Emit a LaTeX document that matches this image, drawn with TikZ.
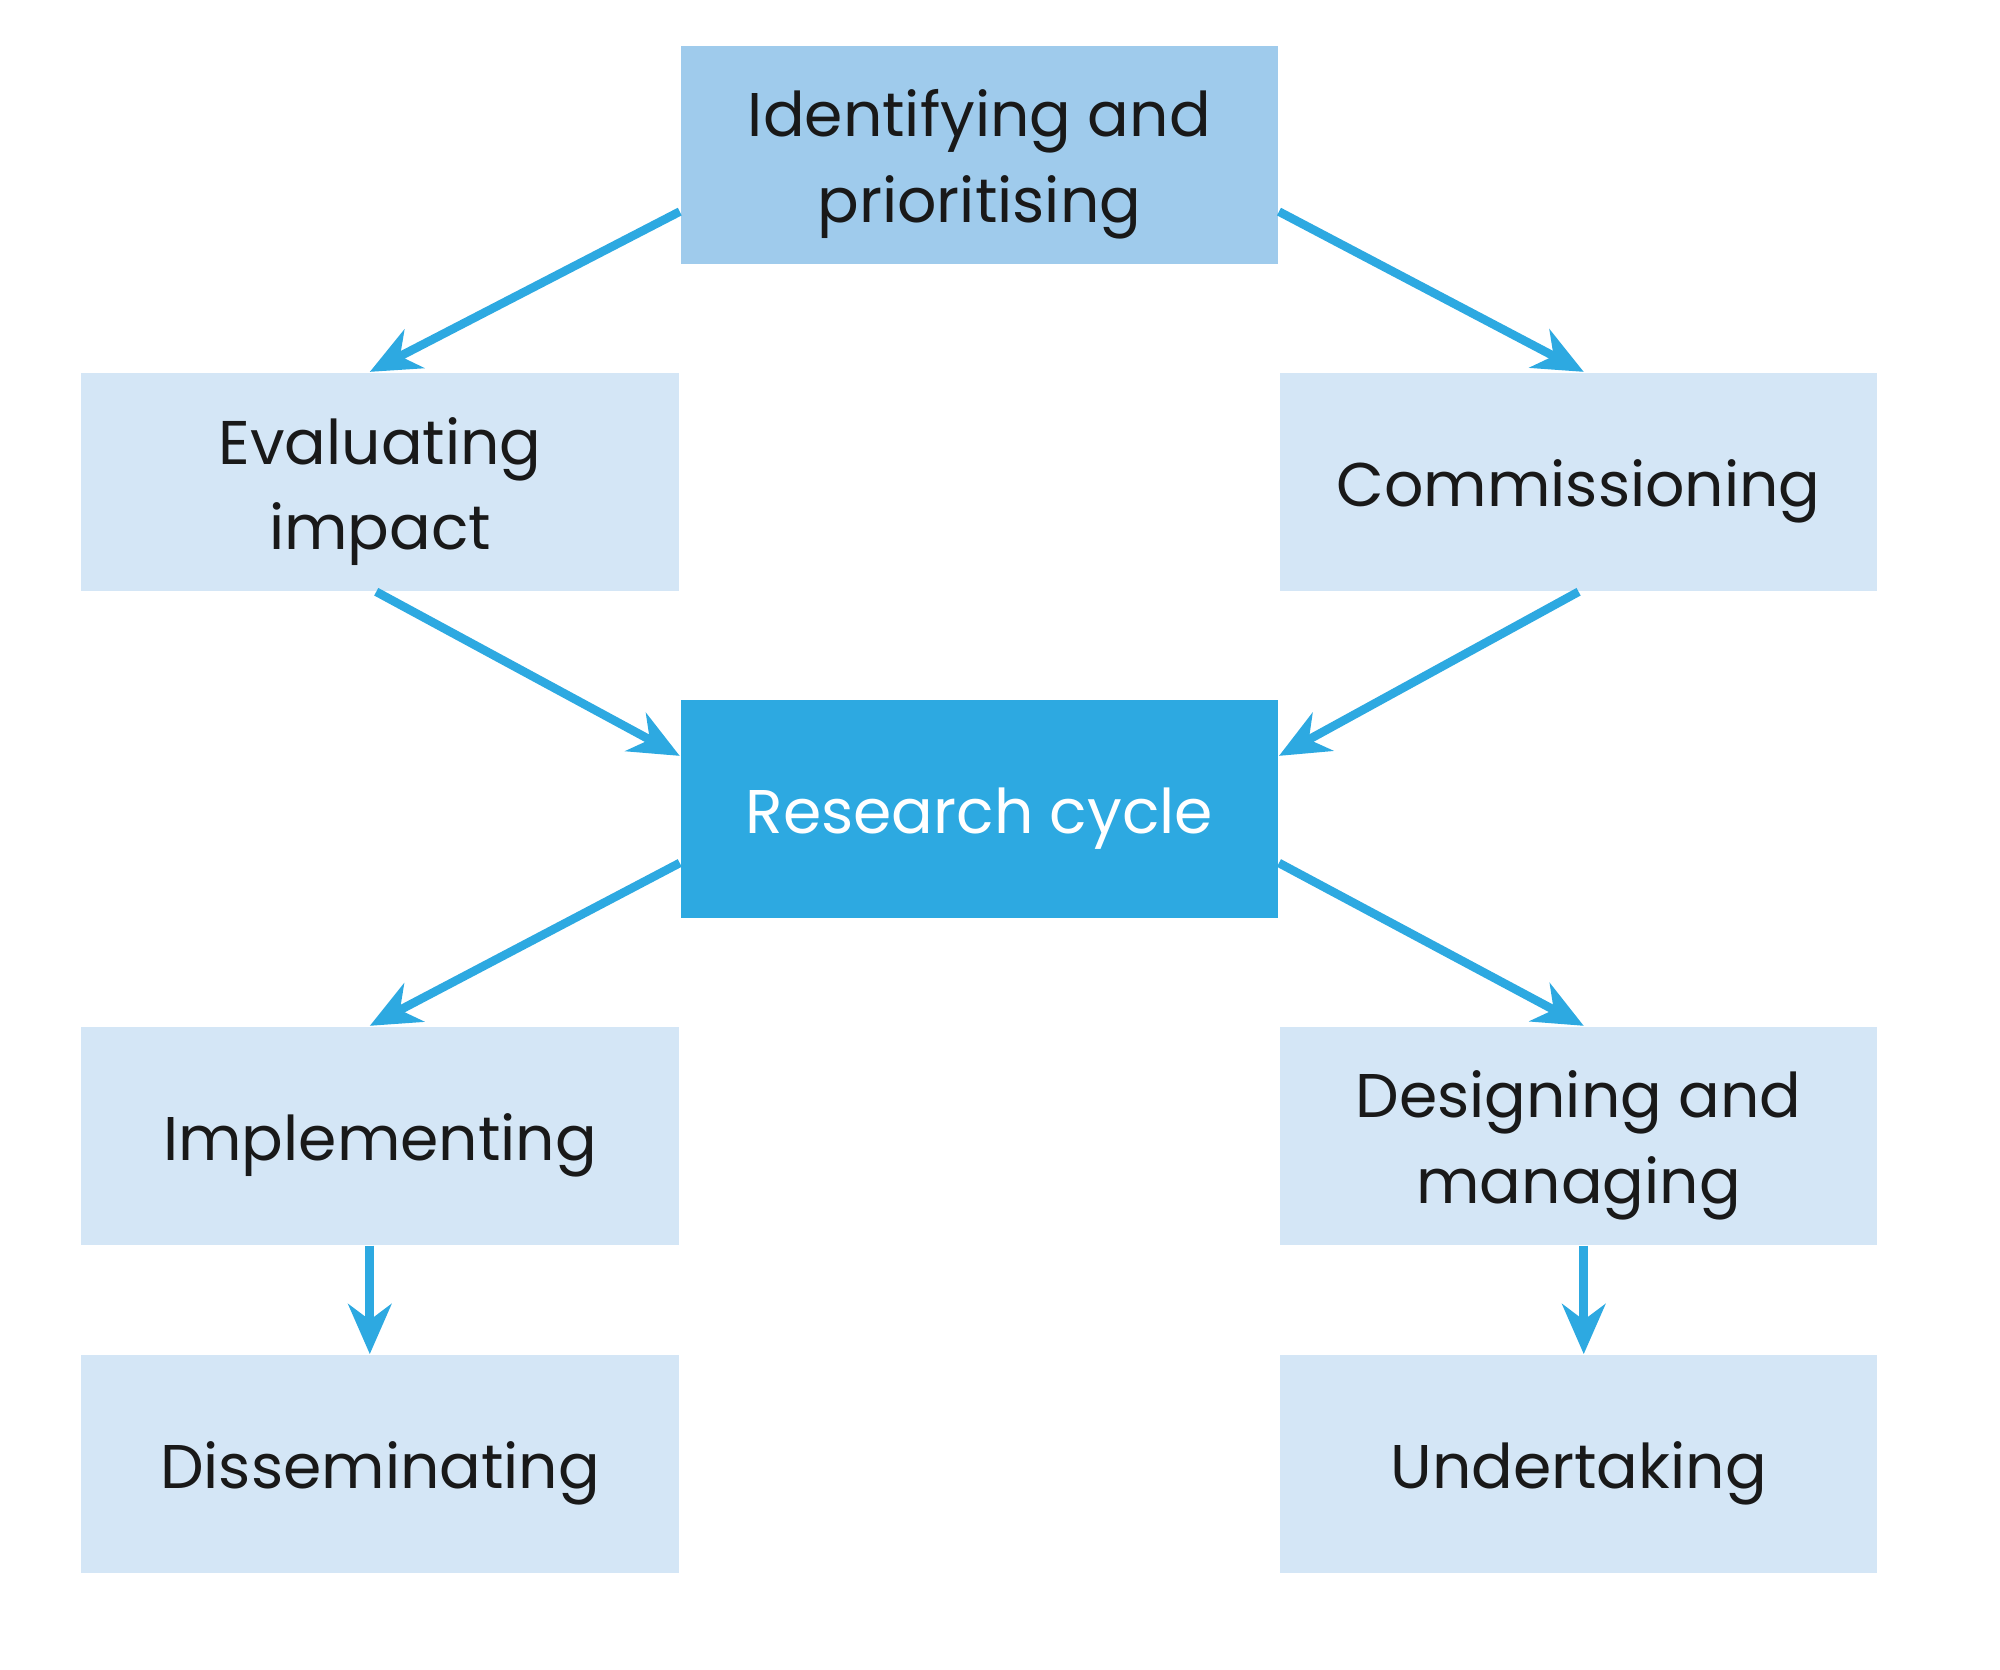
\documentclass[tikz,border=0pt]{standalone}
\usepackage{fontspec}
\setmainfont{Poppins}
\usetikzlibrary{positioning,arrows.meta}
\definecolor{boxpale}{HTML}{D4E6F6}
\definecolor{boxtop}{HTML}{9FCBEC}
\definecolor{cyclebl}{HTML}{2DA9E1}
\begin{document}
\begin{tikzpicture} % Research cycle
\tikzstyle{stage} = [rectangle, fill=boxpale, minimum width=4.63cm, minimum height=1.69cm, align=center, inner sep=0pt, text=black!90, font=\fontsize{13.6}{18.8}\selectfont, execute at begin node={\rule{0pt}{14.6pt}}] % pale stage box
\tikzstyle{twoline} = [execute at begin node={\rule{0pt}{33.4pt}}] % lower two-line text a bit
\tikzstyle{topstage} = [stage, twoline, fill=boxtop] % first stage
\tikzstyle{hub} = [stage, fill=cyclebl, text=white] % centre box
\tikzstyle{flow} = [draw=cyclebl, line width=1.9pt, -{Stealth[length=11pt,width=9.5pt,inset=3.5pt]}] % arrows
\useasboundingbox (0,0) rectangle (15.5,-12.94);
%
\node[topstage] (ident) at (7.59,-1.20) {Identifying and\\prioritising};
\node[stage, twoline, below left=0.83cm and 0cm of ident.south west, anchor=north east] (eval) {Evaluating\\impact};
\node[stage, below right=0.83cm and 0cm of ident.south east, anchor=north west] (comm) {Commissioning};
\node[hub, below right=0.83cm and 0cm of eval.south east, anchor=north west] (cycle) {Research cycle};
\node[stage, below left=0.83cm and 0cm of cycle.south west, anchor=north east] (impl) {Implementing};
\node[stage, twoline, below right=0.83cm and 0cm of cycle.south east, anchor=north west] (design) {Designing and\\managing};
\node[stage, below=0.84cm of impl] (dissem) {Disseminating};
\node[stage, below=0.84cm of design] (under) {Undertaking};
%
\draw[flow] ([yshift=-0.44cm]ident.west) -- ([xshift=-0.08cm]eval.north);
\draw[flow] ([yshift=-0.44cm]ident.east) -- ([xshift=0.04cm]comm.north);
\draw[flow] ([xshift=-0.03cm]eval.south) -- ([yshift=0.41cm]cycle.west);
\draw[flow] (comm.south) -- ([yshift=0.41cm]cycle.east);
\draw[flow] ([yshift=-0.42cm]cycle.west) -- ([xshift=-0.08cm]impl.north);
\draw[flow] ([yshift=-0.42cm]cycle.east) -- ([xshift=0.04cm]design.north);
\draw[flow] ([xshift=-0.08cm]impl.south) -- ([xshift=-0.08cm]dissem.north);
\draw[flow] ([xshift=0.04cm]design.south) -- ([xshift=0.04cm]under.north);
\end{tikzpicture}
\end{document}
